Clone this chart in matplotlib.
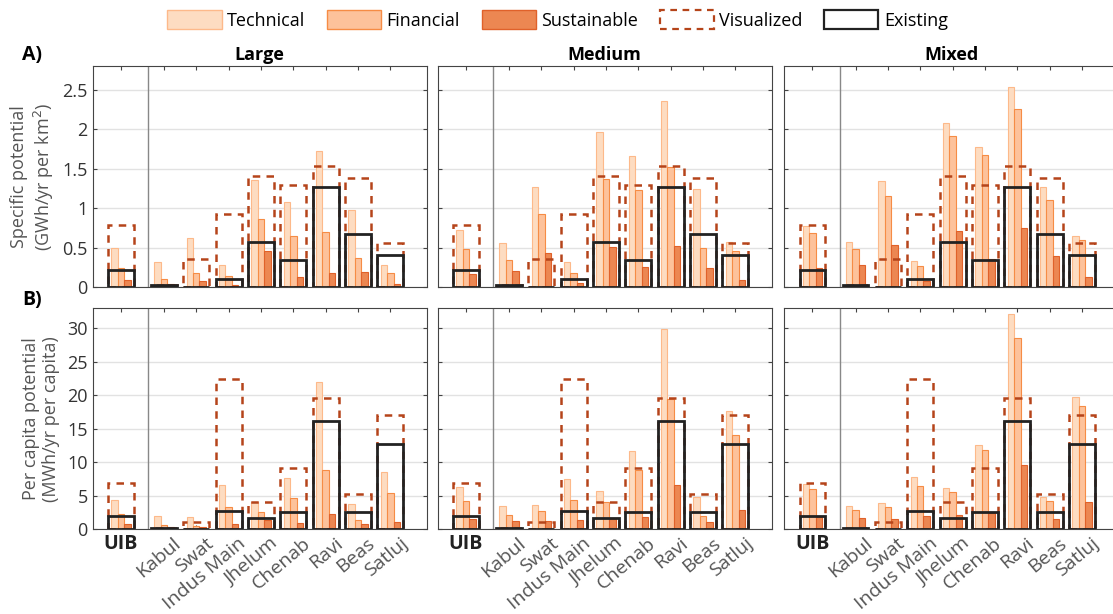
import numpy as np
import matplotlib.pyplot as plt
import matplotlib.transforms as mtransforms
from matplotlib.patches import Patch

plt.rcParams['font.family'] = ['Open Sans', 'DejaVu Sans']

basins = ['UIB', 'Kabul', 'Swat', 'Indus Main', 'Jhelum', 'Chenab', 'Ravi', 'Beas', 'Satluj']
scenarios = ['Large', 'Medium', 'Mixed']

# specific potential (GWh/yr per km2)
vis_sp = [0.79, 0.03, 0.36, 0.93, 1.41, 1.29, 1.54, 1.38, 0.56]
exist_sp = [0.225, 0.025, 0.004, 0.11, 0.58, 0.35, 1.265, 0.68, 0.415]
tech_sp = {'Large': [0.50, 0.32, 0.62, 0.28, 1.36, 1.08, 1.73, 0.98, 0.28],
           'Medium': [0.73, 0.56, 1.27, 0.32, 1.96, 1.66, 2.36, 1.24, 0.58],
           'Mixed': [0.77, 0.57, 1.35, 0.33, 2.08, 1.77, 2.53, 1.27, 0.65]}
fin_sp = {'Large': [0.25, 0.11, 0.18, 0.14, 0.86, 0.65, 0.70, 0.37, 0.18],
          'Medium': [0.49, 0.35, 0.93, 0.18, 1.375, 1.235, 1.52, 0.495, 0.46],
          'Mixed': [0.69, 0.48, 1.16, 0.27, 1.91, 1.67, 2.25, 1.11, 0.60]}
sus_sp = {'Large': [0.09, 0.04, 0.08, 0.03, 0.46, 0.13, 0.18, 0.195, 0.04],
          'Medium': [0.17, 0.21, 0.44, 0.06, 0.51, 0.26, 0.52, 0.245, 0.09],
          'Mixed': [0.24, 0.28, 0.54, 0.08, 0.71, 0.36, 0.75, 0.40, 0.135]}

# per capita potential (MWh/yr per capita)
vis_pc = [6.9, 0.2, 1.0, 22.4, 4.1, 9.15, 19.6, 5.25, 17.1]
exist_pc = [2.0, 0.2, 0.05, 2.75, 1.7, 2.5, 16.1, 2.6, 12.75]
tech_pc = {'Large': [4.35, 1.9, 1.75, 6.65, 4.0, 7.65, 22.0, 3.75, 8.55],
           'Medium': [6.35, 3.4, 3.6, 7.5, 5.7, 11.7, 29.9, 4.75, 17.7],
           'Mixed': [6.7, 3.4, 3.85, 7.75, 6.1, 12.55, 32.1, 4.85, 19.75]}
fin_pc = {'Large': [2.2, 0.6, 0.5, 3.3, 2.55, 4.65, 8.85, 1.4, 5.35],
          'Medium': [4.2, 2.1, 2.65, 4.35, 4.0, 8.8, 19.45, 1.9, 14.1],
          'Mixed': [6.0, 2.9, 3.3, 6.45, 5.55, 11.8, 28.5, 4.25, 18.45]}
sus_pc = {'Large': [0.75, 0.3, 0.25, 0.75, 1.35, 0.9, 2.25, 0.75, 1.05],
          'Medium': [1.5, 1.25, 1.2, 1.35, 1.5, 1.8, 6.55, 1.0, 2.85],
          'Mixed': [1.8, 1.65, 1.5, 1.9, 2.05, 2.4, 9.6, 1.5, 4.05]}

c_tech = ('#fddcc1', '#fdb98a')
c_fin = ('#fdc29b', '#f68c45')
c_sus = ('#ec8752', '#e0612a')
c_vis = '#b5441a'
c_ex = '#222222'

x = np.array([0] + [1.33 + i for i in range(8)])

fig = plt.figure(figsize=(11.13, 6.14), dpi=100)
lefts = [0.0833, 0.3933, 0.7047]
width = 0.300
rows = [(0.532, 0.3605), (0.1384, 0.3596)]

row_data = [(tech_sp, fin_sp, sus_sp, vis_sp, exist_sp, 2.8, np.arange(0, 2.6, 0.5)),
            (tech_pc, fin_pc, sus_pc, vis_pc, exist_pc, 33, np.arange(0, 31, 5))]

shift = mtransforms.ScaledTranslation(9 / 100, 0, fig.dpi_scale_trans)

for r, (tech, fin, sus, vis, ex, ytop, yt) in enumerate(row_data):
    for c, sc in enumerate(scenarios):
        ax = fig.add_axes([lefts[c], rows[r][0], width, rows[r][1]])
        ax.set_axisbelow(True)
        ax.grid(axis='y', color='#e2e2e2', lw=1.0)
        ax.bar(x - 0.2, tech[sc], 0.2, color=c_tech[0], ec=c_tech[1], lw=0.8, zorder=2)
        ax.bar(x, fin[sc], 0.2, color=c_fin[0], ec=c_fin[1], lw=0.8, zorder=2)
        ax.bar(x + 0.2, sus[sc], 0.2, color=c_sus[0], ec=c_sus[1], lw=0.8, zorder=2)
        ax.bar(x, vis, 0.8, color='none', ec=c_vis, lw=1.8, ls=(0, (3, 2.5)), zorder=3)
        ax.bar(x, ex, 0.8, color='none', ec=c_ex, lw=2.0, zorder=4)
        ax.axvline(0.84, color='#888888', lw=1.0, zorder=1)
        ax.set_xlim(-0.87, 9.45)
        ax.set_ylim(0, ytop)
        ax.set_yticks(yt)
        ax.set_xticks(x)
        ax.tick_params(direction='in', top=True, right=True, length=3,
                       color='#444444', labelsize=13, labelcolor='#333333')
        for s in ax.spines.values():
            s.set_color('#444444')
        if c > 0:
            ax.set_yticklabels([])
        else:
            ax.set_yticklabels([f'{v:g}' for v in yt])
        if r == 0:
            ax.set_xticklabels([])
            ax.set_title(sc, fontsize=13, fontweight='bold', pad=4)
        else:
            ax.set_xticklabels(basins)
            labs = ax.get_xticklabels()
            labs[0].set_fontweight('bold')
            labs[0].set_fontsize(14)
            labs[0].set_color('#222222')
            for lb in labs[1:]:
                lb.set_rotation(40)
                lb.set_ha('right')
                lb.set_rotation_mode('anchor')
                lb.set_color('#555555')
                lb.set_fontsize(14)
                lb.set_transform(lb.get_transform() + shift)
        if c == 0:
            if r == 0:
                ax.set_ylabel('Specific potential\n(GWh/yr per km$^2$)', fontsize=13,
                              color='#555555', labelpad=5)
            else:
                ax.set_ylabel('Per capita potential\n(MWh/yr per capita)', fontsize=13,
                              color='#555555', labelpad=5)

fig.text(0.020, 0.903, 'A)', fontsize=14, fontweight='bold')
fig.text(0.020, 0.503, 'B)', fontsize=14, fontweight='bold')

handles = [Patch(fc=c_tech[0], ec=c_tech[1], lw=1),
           Patch(fc=c_fin[0], ec=c_fin[1], lw=1),
           Patch(fc=c_sus[0], ec=c_sus[1], lw=1),
           Patch(fc='none', ec=c_vis, lw=1.6, ls=(0, (3, 2.5))),
           Patch(fc='none', ec=c_ex, lw=1.6)]
fig.legend(handles, ['Technical', 'Financial', 'Sustainable', 'Visualized', 'Existing'],
           loc='upper center', bbox_to_anchor=(0.501, 1.01), ncol=5, frameon=False,
           fontsize=13, handlelength=3.0, handleheight=1.25, handletextpad=0.3,
           columnspacing=1.2)

fig.savefig('out.png', dpi=100)
